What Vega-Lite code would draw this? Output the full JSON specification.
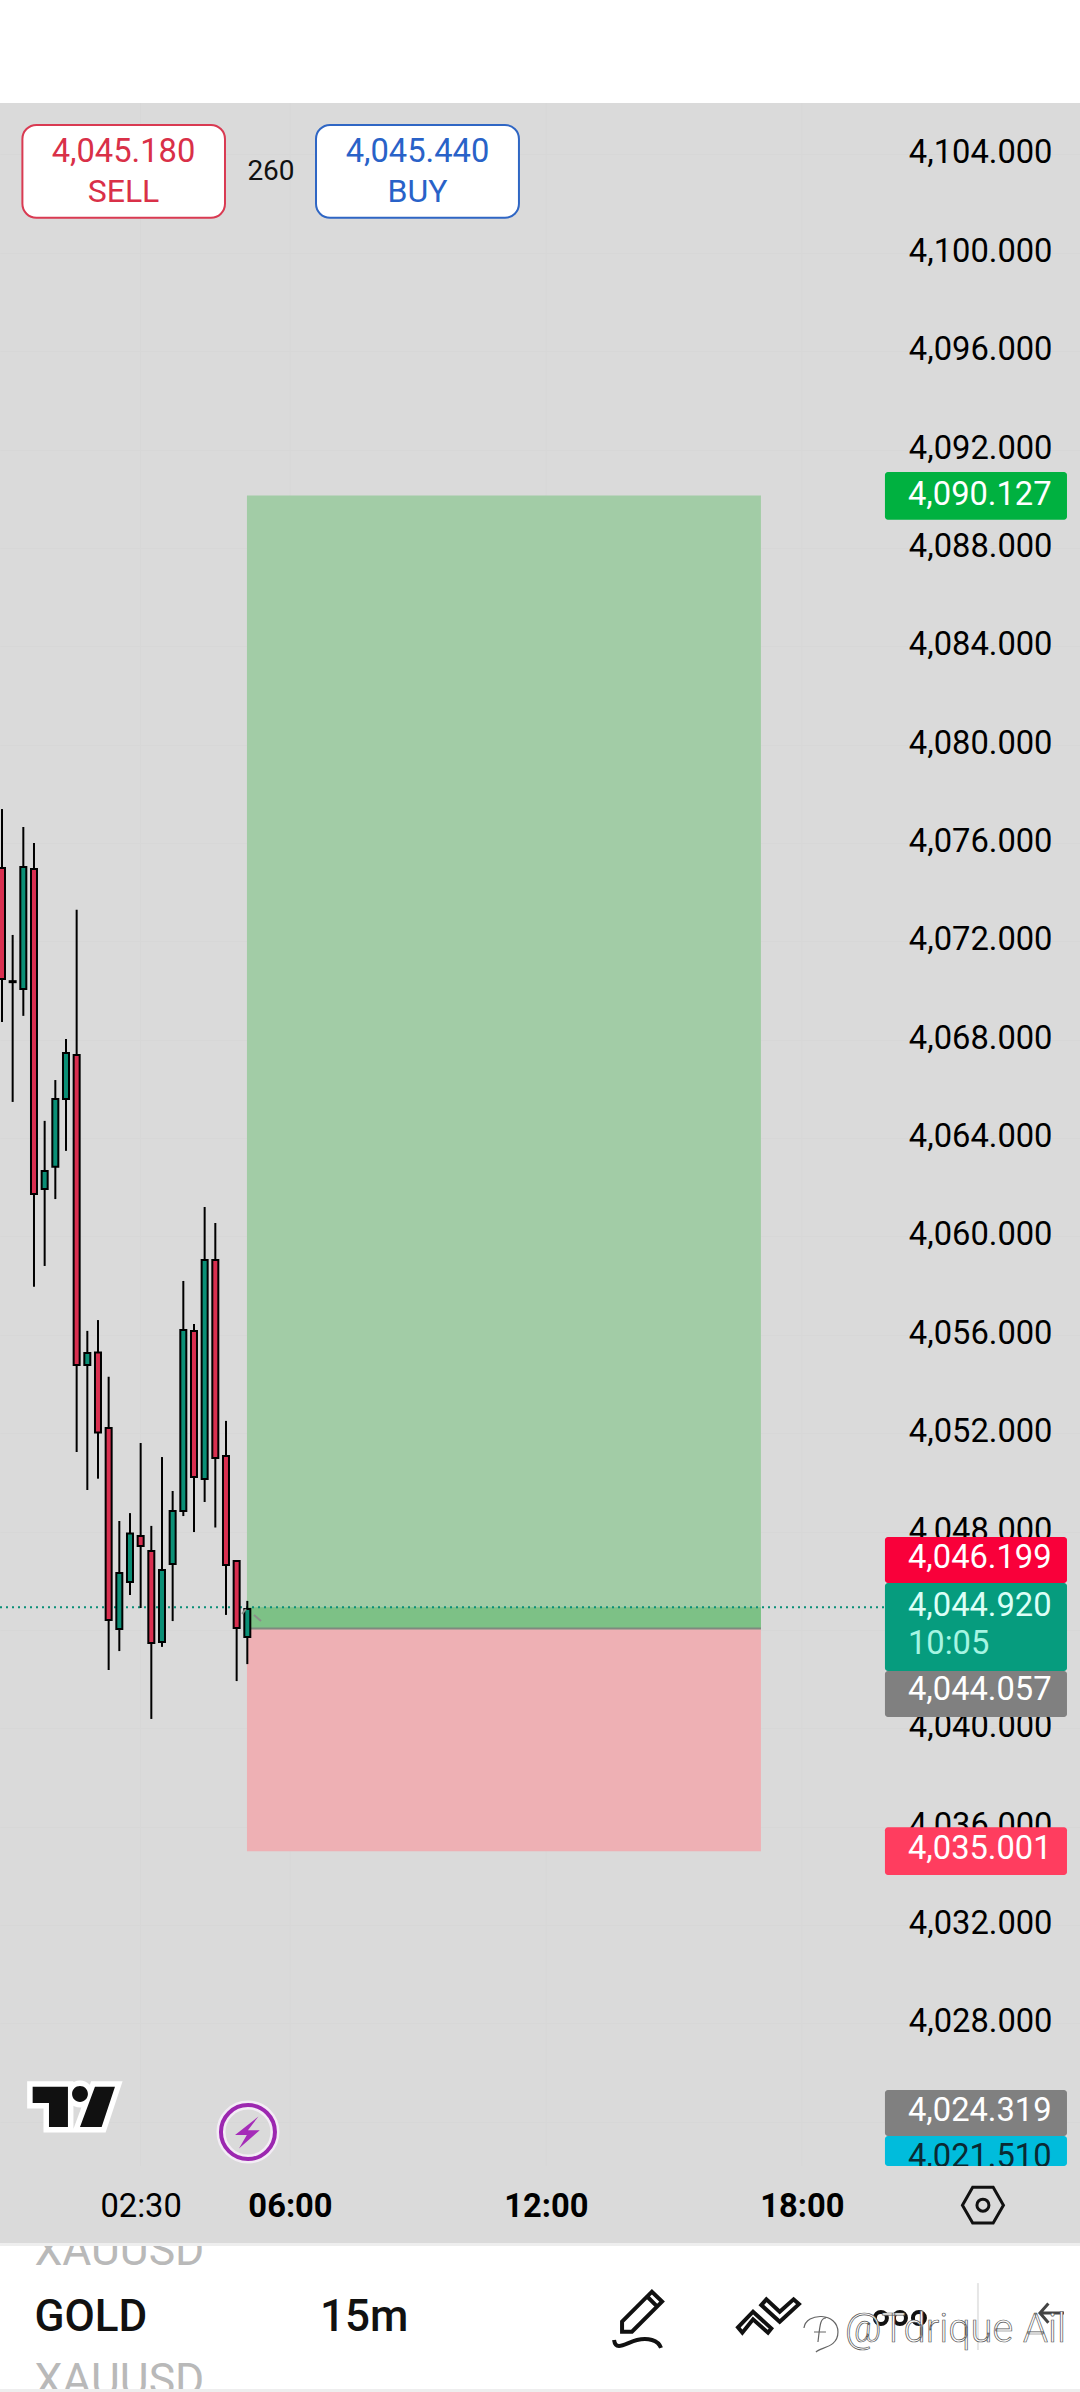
{
"$schema":"https://vega.github.io/schema/vega-lite/v6.json",
"autosize":"none","width":1080,"height":2140,
"padding":{"left":0,"top":103,"right":0,"bottom":149},
"background":"#ffffff",
"view":{"fill":"#dadada","stroke":null},
"config":{"font":"Roboto"},
"resolve":{"scale":{"color":"independent"}},
"datasets":{
"candles":[
{"time":"2025-10-20T23:15:00","open":4074.98,"high":4077.38,"low":4068.72,"close":4070.47,"dir":"down"},
{"time":"2025-10-20T23:30:00","open":4070.38,"high":4072.26,"low":4065.47,"close":4070.34,"dir":"down"},
{"time":"2025-10-20T23:45:00","open":4070.06,"high":4076.65,"low":4068.97,"close":4075.02,"dir":"up"},
{"time":"2025-10-21T00:00:00","open":4074.94,"high":4076.00,"low":4057.95,"close":4061.73,"dir":"down"},
{"time":"2025-10-21T00:15:00","open":4061.93,"high":4064.70,"low":4058.80,"close":4062.66,"dir":"up"},
{"time":"2025-10-21T00:30:00","open":4062.83,"high":4066.36,"low":4061.52,"close":4065.59,"dir":"up"},
{"time":"2025-10-21T00:45:00","open":4065.59,"high":4068.03,"low":4063.48,"close":4067.46,"dir":"up"},
{"time":"2025-10-21T01:00:00","open":4067.38,"high":4073.28,"low":4051.23,"close":4054.77,"dir":"down"},
{"time":"2025-10-21T01:15:00","open":4054.77,"high":4056.16,"low":4049.69,"close":4055.26,"dir":"up"},
{"time":"2025-10-21T01:30:00","open":4055.28,"high":4056.60,"low":4050.15,"close":4052.03,"dir":"down"},
{"time":"2025-10-21T01:45:00","open":4052.21,"high":4054.29,"low":4042.37,"close":4044.40,"dir":"down"},
{"time":"2025-10-21T02:00:00","open":4044.04,"high":4048.43,"low":4043.14,"close":4046.31,"dir":"up"},
{"time":"2025-10-21T02:15:00","open":4045.95,"high":4048.75,"low":4045.42,"close":4047.92,"dir":"up"},
{"time":"2025-10-21T02:30:00","open":4047.82,"high":4051.60,"low":4044.89,"close":4047.41,"dir":"down"},
{"time":"2025-10-21T02:45:00","open":4047.21,"high":4048.23,"low":4040.38,"close":4043.47,"dir":"down"},
{"time":"2025-10-21T03:00:00","open":4043.51,"high":4051.03,"low":4043.31,"close":4046.44,"dir":"up"},
{"time":"2025-10-21T03:15:00","open":4046.68,"high":4049.65,"low":4044.36,"close":4048.84,"dir":"up"},
{"time":"2025-10-21T03:30:00","open":4048.84,"high":4058.19,"low":4048.63,"close":4056.20,"dir":"up"},
{"time":"2025-10-21T03:45:00","open":4056.16,"high":4056.44,"low":4047.98,"close":4050.22,"dir":"down"},
{"time":"2025-10-21T04:00:00","open":4050.14,"high":4061.20,"low":4049.20,"close":4059.04,"dir":"up"},
{"time":"2025-10-21T04:15:00","open":4059.04,"high":4060.55,"low":4048.16,"close":4050.99,"dir":"down"},
{"time":"2025-10-21T04:30:00","open":4051.07,"high":4052.50,"low":4044.61,"close":4046.64,"dir":"down"},
{"time":"2025-10-21T04:45:00","open":4046.80,"high":4046.84,"low":4041.92,"close":4044.08,"dir":"down"},
{"time":"2025-10-21T05:00:00","open":4043.71,"high":4045.18,"low":4042.61,"close":4044.85,"dir":"up"}
]
},
"encoding":{
"x":{"field":"time","type":"temporal","title":null,"scale":{"domain":["2025-10-20T23:12:12","2025-10-22T00:31:00"],"padding":0},
 "axis":{"orient":"bottom","values":["2025-10-21T02:30:00","2025-10-21T06:00:00","2025-10-21T12:00:00","2025-10-21T18:00:00"],"format":"%H:%M","domain":false,"ticks":false,"grid":false,"labelPadding":-36.5,"labelBaseline":"middle","labelFontSize":32.7,"labelColor":"#000000","labelFontWeight":{"condition":{"test":"hours(datum.value)===2","value":400},"value":700}}},
"y":{"field":"price","type":"quantitative","title":null,"scale":{"domain":[4019.07,4106.09],"nice":false,"zero":false,"padding":0},
 "axis":{"orient":"right","values":[4104,4100,4096,4092,4088,4084,4080,4076,4072,4068,4064,4060,4056,4052,4048,4044,4040,4036,4032,4028,4024],"format":",.3f","domain":false,"ticks":false,"grid":true,"gridColor":"#d7d7d7","gridWidth":1,"labelPadding":-28,"labelAlign":"right","labelBaseline":"middle","labelFontSize":32.7,"labelColor":"#000000","labelOffset":-1.5}}
},
"layer":[
{"data":{"values":[
{"time":"2025-10-21T02:30:00","price":4106.09,"p2":4022.2},
{"time":"2025-10-21T06:00:00","price":4106.09,"p2":4022.2},
{"time":"2025-10-21T12:00:00","price":4106.09,"p2":4022.2},
{"time":"2025-10-21T18:00:00","price":4106.09,"p2":4022.2}]},
"mark":{"type":"rule","stroke":"#d7d7d7","strokeWidth":1},
"encoding":{"y2":{"field":"p2"}}},

{"data":{"values":[
{"kind":"target","time":"2025-10-21T04:59:30","time2":"2025-10-21T17:02:18","price":4090.127,"bottom":4044.057},
{"kind":"stop","time":"2025-10-21T04:59:30","time2":"2025-10-21T17:02:18","price":4044.057,"bottom":4035.001},
{"kind":"band","time":"2025-10-21T04:59:30","time2":"2025-10-21T17:02:18","price":4044.92,"bottom":4044.057}],
"format":{"parse":{"time2":"date"}}},
"mark":{"type":"rect"},
"encoding":{"x2":{"field":"time2"},"y2":{"field":"bottom"},
"color":{"field":"kind","type":"nominal","legend":null,"scale":{"domain":["target","stop","band"],"range":["#a2cca6","#eeb0b4","#7dc186"]}}}},

{"data":{"values":[{"time":"2025-10-21T04:59:30","time2":"2025-10-21T17:02:18","price":4044.057}],"format":{"parse":{"time2":"date"}}},
"mark":{"type":"rule","stroke":"#7f8a7f","strokeWidth":2},
"encoding":{"x2":{"field":"time2"}}},

{"data":{"values":[{"time":"2025-10-20T23:12:12","time2":"2025-10-21T19:56:42","price":4044.92}],"format":{"parse":{"time2":"date"}}},
"mark":{"type":"rule","stroke":"#0a8f78","strokeWidth":2,"strokeDash":[2,4]},
"encoding":{"x2":{"field":"time2"}}},

{"data":{"name":"candles"},
"mark":{"type":"rule","stroke":"#000000","strokeWidth":2},
"encoding":{"y":{"field":"low"},"y2":{"field":"high"}}},

{"data":{"name":"candles"},
"mark":{"type":"bar","size":6,"stroke":"#000000","strokeWidth":2},
"encoding":{"y":{"field":"open"},"y2":{"field":"close"},
"color":{"field":"dir","type":"nominal","legend":null,"scale":{"domain":["up","down"],"range":["#0b8f76","#d92f50"]}}}},

{"data":{"values":[
{"time":"2025-10-21T05:09:24","time2":"2025-10-21T05:19:12","price":4044.61,"p2":4044.36},
{"time":"2025-10-21T04:52:30","time2":"2025-10-21T04:58:06","price":4044.65,"p2":4044.85}],"format":{"parse":{"time2":"date"}}},
"mark":{"type":"rule","stroke":"#8a8f8a","strokeWidth":2},
"encoding":{"x2":{"field":"time2"},"y2":{"field":"p2"}}},

{"data":{"values":[
{"kind":"sell","time":"2025-10-20T23:43:42","time2":"2025-10-21T04:28:36","price":4105.20,"bottom":4101.42},
{"kind":"buy","time":"2025-10-21T06:36:36","time2":"2025-10-21T11:22:00","price":4105.20,"bottom":4101.42}],"format":{"parse":{"time2":"date"}}},
"mark":{"type":"rect","fill":"#ffffff","cornerRadius":14,"strokeWidth":2},
"encoding":{"x2":{"field":"time2"},"y2":{"field":"bottom"},
"stroke":{"field":"kind","type":"nominal","legend":null,"scale":{"domain":["sell","buy"],"range":["#d93a52","#2f66c4"]}}}},

{"data":{"values":[
{"kind":"tp","time":"2025-10-21T19:56:42","time2":"2025-10-22T00:12:42","price":4091.09,"bottom":4089.14},
{"kind":"high","time":"2025-10-21T19:56:42","time2":"2025-10-22T00:12:42","price":4047.78,"bottom":4045.91},
{"kind":"entry","time":"2025-10-21T19:56:42","time2":"2025-10-22T00:12:42","price":4042.33,"bottom":4040.46},
{"kind":"sl","time":"2025-10-21T19:56:42","time2":"2025-10-22T00:12:42","price":4035.98,"bottom":4034.03},
{"kind":"entry","time":"2025-10-21T19:56:42","time2":"2025-10-22T00:12:42","price":4025.29,"bottom":4023.42},
{"kind":"cyan","time":"2025-10-21T19:56:42","time2":"2025-10-22T00:12:42","price":4023.42,"bottom":4022.20},
{"kind":"last","time":"2025-10-21T19:56:42","time2":"2025-10-22T00:12:42","price":4045.91,"bottom":4042.33}],"format":{"parse":{"time2":"date"}}},
"mark":{"type":"rect","cornerRadius":3},
"encoding":{"x2":{"field":"time2"},"y2":{"field":"bottom"},
"color":{"field":"kind","type":"nominal","legend":null,"scale":{"domain":["tp","high","entry","sl","cyan","last"],"range":["#00b140","#f9003a","#808080","#ff3d5f","#00bcdc","#069c7e"]}}}},

{"data":{"values":[
{"time":"2025-10-21T20:29:03","price":4090.23,"label":"4,090.127","tone":"white"},
{"time":"2025-10-21T20:29:03","price":4046.97,"label":"4,046.199","tone":"white"},
{"time":"2025-10-21T20:29:03","price":4045.05,"label":"4,044.920","tone":"pale"},
{"time":"2025-10-21T20:29:03","price":4043.47,"label":"10:05","tone":"mint"},
{"time":"2025-10-21T20:29:03","price":4041.60,"label":"4,044.057","tone":"white"},
{"time":"2025-10-21T20:29:03","price":4035.17,"label":"4,035.001","tone":"white"},
{"time":"2025-10-21T20:29:03","price":4024.48,"label":"4,024.319","tone":"white"},
{"time":"2025-10-21T20:29:03","price":4022.61,"label":"4,021.510","tone":"dark"}]},
"mark":{"type":"text","align":"left","baseline":"middle","fontSize":32.7,"dy":1.5},
"encoding":{"text":{"field":"label"},
"color":{"field":"tone","type":"nominal","legend":null,"scale":{"domain":["white","pale","mint","dark"],"range":["#ffffff","#dcfff6","#a6f5e3","#0a2a33"]}}}},

{"data":{"values":[{"time":"2025-10-21T19:56:42","time2":"2025-10-22T00:12:42","price":4022.20,"bottom":4020.82}],"format":{"parse":{"time2":"date"}}},
"mark":{"type":"rect","fill":"#dadada"},
"encoding":{"x2":{"field":"time2"},"y2":{"field":"bottom"}}},

{"data":{"values":[
{"time":"2025-10-21T02:05:54","price":4104.14,"label":"4,045.180","tone":"sell"},
{"time":"2025-10-21T08:59:18","price":4104.14,"label":"4,045.440","tone":"buy"}]},
"mark":{"type":"text","align":"center","baseline":"middle","fontSize":32.7,"dy":1.5},
"encoding":{"text":{"field":"label"},
"color":{"field":"tone","type":"nominal","legend":null,"scale":{"domain":["sell","buy"],"range":["#d93048","#2962c8"]}}}},

{"data":{"values":[
{"time":"2025-10-21T02:05:54","price":4102.53,"label":"SELL","tone":"sell"},
{"time":"2025-10-21T08:59:18","price":4102.53,"label":"BUY","tone":"buy"}]},
"mark":{"type":"text","align":"center","baseline":"middle","fontSize":32,"dy":1.5},
"encoding":{"text":{"field":"label"},
"color":{"field":"tone","type":"nominal","legend":null,"scale":{"domain":["sell","buy"],"range":["#d93048","#2962c8"]}}}},

{"data":{"values":[{"time":"2025-10-21T05:33:18","price":4103.33,"label":"260"}]},
"mark":{"type":"text","align":"center","baseline":"middle","fontSize":28,"fill":"#111111","dy":1.5},
"encoding":{"text":{"field":"label"}}},

{"data":{"values":[{"time":"2025-10-21T00:54:48","price":4024.60}]},
"mark":{"type":"point","shape":"M -0.916 -0.46 H -0.114 V 0.455 H -0.545 V -0.09 H -0.916 Z M 0.5 -0.46 H 0.955 L 0.652 0.455 H 0.16 Z M -0.02 -0.295 A 0.18 0.18 0 1 0 0.34 -0.295 A 0.18 0.18 0 1 0 -0.02 -0.295 Z","size":7744,"filled":true,"fill":"#ffffff","stroke":"#ffffff","strokeWidth":11,"opacity":1}},
{"data":{"values":[{"time":"2025-10-21T00:54:48","price":4024.60}]},
"mark":{"type":"point","shape":"M -0.916 -0.46 H -0.114 V 0.455 H -0.545 V -0.09 H -0.916 Z M 0.5 -0.46 H 0.955 L 0.652 0.455 H 0.16 Z M -0.02 -0.295 A 0.18 0.18 0 1 0 0.34 -0.295 A 0.18 0.18 0 1 0 -0.02 -0.295 Z","size":7744,"filled":true,"fill":"#111111","strokeWidth":0,"opacity":1}},

{"data":{"values":[{"time":"2025-10-21T05:00:54","price":4023.58}]},
"mark":{"type":"point","shape":"circle","size":2916,"filled":false,"stroke":"#f3ecf5","strokeWidth":9,"opacity":1}},
{"data":{"values":[{"time":"2025-10-21T05:00:54","price":4023.58}]},
"mark":{"type":"point","shape":"circle","size":2916,"filled":false,"stroke":"#9c27b0","strokeWidth":4,"opacity":1}},
{"data":{"values":[{"time":"2025-10-21T05:00:54","price":4023.58}]},
"mark":{"type":"point","shape":"M 0.56 -0.83 L -0.69 0.15 L -0.06 0.15 L -0.48 0.88 L 0.63 -0.1 L 0 -0.1 Z","size":1400,"filled":true,"fill":"#a52cb8","strokeWidth":0,"opacity":1}},

{"data":{"values":[{"time":"2025-10-21T22:14:30","price":4020.61}]},
"mark":{"type":"point","shape":"M -1 0 L -0.5 -0.87 L 0.5 -0.87 L 1 0 L 0.5 0.87 L -0.5 0.87 Z","size":1681,"filled":false,"stroke":"#111111","strokeWidth":3,"opacity":1}},
{"data":{"values":[{"time":"2025-10-21T22:14:30","price":4020.61}]},
"mark":{"type":"point","shape":"circle","size":144,"filled":false,"stroke":"#111111","strokeWidth":3,"opacity":1}},

{"data":{"values":[
{"time":"2025-10-21T00:00:36","price":4018.78,"label":"XAUUSD"},
{"time":"2025-10-21T00:00:36","price":4013.50,"label":"XAUUSD"}]},
"mark":{"type":"text","align":"left","baseline":"middle","fontSize":44.5,"fill":"#b9b9b9","dy":2},
"encoding":{"text":{"field":"label"}}},

{"data":{"values":[{"time":"2025-10-20T23:12:12","time2":"2025-10-21T05:04:00","price":4019.92,"bottom":4019.07}],"format":{"parse":{"time2":"date"}}},
"mark":{"type":"rect","fill":"#dadada"},
"encoding":{"x2":{"field":"time2"},"y2":{"field":"bottom"}}},

{"data":{"values":[
{"time":"2025-10-20T23:12:12","time2":"2025-10-22T00:31:00","price":4019.07,"bottom":4018.95},
{"time":"2025-10-20T23:12:12","time2":"2025-10-22T00:31:00","price":4013.13,"bottom":4013.0}],"format":{"parse":{"time2":"date"}}},
"mark":{"type":"rect","fill":"#eeeeee"},
"encoding":{"x2":{"field":"time2"},"y2":{"field":"bottom"}}},

{"data":{"values":[
{"time":"2025-10-21T00:00:36","price":4016.10,"label":"GOLD"},
{"time":"2025-10-21T06:42:12","price":4016.10,"label":"15m"}]},
"mark":{"type":"text","align":"left","baseline":"middle","fontSize":44,"fontWeight":500,"fill":"#111111","dy":1.5},
"encoding":{"text":{"field":"label"}}},

{"data":{"values":[{"time":"2025-10-21T14:08:00","price":4015.94}]},
"mark":{"type":"point","shape":"M -0.56 0.06 L 0.56 -1.06 L 0.94 -0.69 L -0.19 0.44 L -0.56 0.44 Z M 0.38 -0.88 L 0.76 -0.5 M -0.86 0.75 C -0.8 1.2 -0.4 0.85 0 0.75 C 0.4 0.65 0.8 0.75 0.9 1.05","size":2844,"filled":false,"stroke":"#111111","strokeWidth":4,"opacity":1}},
{"data":{"values":[{"time":"2025-10-21T17:12:12","price":4016.14}]},
"mark":{"type":"point","shape":"M -1.125 0.46 L -0.56 -0.125 L 0.125 0.5 L 0 0.66 L -0.56 0.16 L -0.96 0.66 Z M -0.25 -0.375 L -0.06 -0.59 L 0.44 -0.125 L 0.96 -0.59 L 1.16 -0.41 L 0.44 0.25 Z","size":2844,"filled":false,"stroke":"#111111","strokeWidth":4,"opacity":1}},
{"data":{"values":[
{"time":"2025-10-21T19:51:00","price":4016.02},
{"time":"2025-10-21T20:17:48","price":4016.02},
{"time":"2025-10-21T20:44:30","price":4016.02}]},
"mark":{"type":"point","shape":"circle","size":144,"filled":false,"stroke":"#111111","strokeWidth":4,"opacity":1}},
{"data":{"values":[{"time":"2025-10-21T22:07:30","price":4017.44,"p2":4014.72}]},
"mark":{"type":"rule","stroke":"#e6e6e6","strokeWidth":2},
"encoding":{"y2":{"field":"p2"}}},
{"data":{"values":[{"time":"2025-10-21T23:51:36","price":4016.22}]},
"mark":{"type":"point","shape":"M 1 0 L -1 0 M -0.3 -0.8 L -1 0 L -0.3 0.8","size":576,"filled":false,"stroke":"#444444","strokeWidth":3,"opacity":1}},
{"data":{"values":[{"time":"2025-10-21T19:00:30","price":4015.53,"label":"@Tdrique Ail"}]},
"mark":{"type":"text","align":"left","baseline":"middle","fontSize":40,"fontWeight":300,"fill":"#ffffff","stroke":"#555555","strokeWidth":0.7},
"encoding":{"text":{"field":"label"}}},
{"data":{"values":[{"time":"2025-10-21T18:25:18","price":4015.45}]},
"mark":{"type":"point","shape":"M -0.2 1 C 0 0.75 0.9 0.8 0.9 0 C 0.9 -1 -0.7 -1 -0.8 -0.2 M 0.3 -0.7 C 0 -0.7 0 -0.3 -0.1 0.5 M -0.3 0 L 0.3 0","size":1600,"filled":false,"stroke":"#666666","strokeWidth":1.2,"opacity":1}}
]
}
